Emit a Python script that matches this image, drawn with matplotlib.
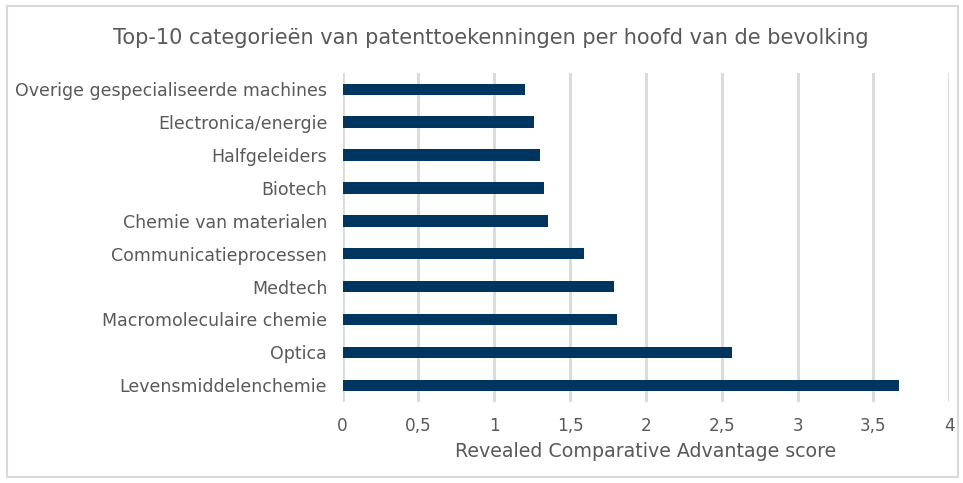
import matplotlib.pyplot as plt
from matplotlib.patches import Rectangle

categories = ['Levensmiddelenchemie', 'Optica', 'Macromoleculaire chemie', 'Medtech',
              'Communicatieprocessen', 'Chemie van materialen', 'Biotech',
              'Halfgeleiders', 'Electronica/energie', 'Overige gespecialiseerde machines']
scores = [3.67, 2.57, 1.81, 1.79, 1.59, 1.355, 1.33, 1.305, 1.265, 1.20]
xticks = [0, 0.5, 1, 1.5, 2, 2.5, 3, 3.5, 4]
xticklabels = ['0', '0,5', '1', '1,5', '2', '2,5', '3', '3,5', '4']

text_col = '#595959'
grid_col = '#d9d9d9'

fig = plt.figure(figsize=(9.63, 4.83), dpi=100)
ax = fig.add_axes([342.5 / 963, 1 - 401.7 / 483, (949.3 - 342.5) / 963, (401.7 - 72.9) / 483])

ax.barh(range(len(categories)), scores, height=0.35, color='#003560', zorder=3)
ax.set_ylim(-0.5, len(categories) - 0.5)
ax.set_xlim(0, 4)
ax.set_yticks(range(len(categories)))
ax.set_yticklabels(categories)
ax.set_xticks(xticks)
ax.set_xticklabels(xticklabels)
ax.tick_params(length=0, labelsize=12.2, colors=text_col)
ax.tick_params(axis='y', labelsize=12.5, pad=11)
ax.tick_params(axis='x', pad=11)
ax.grid(axis='x', color=grid_col, linewidth=2, zorder=0)
for s in ax.spines.values():
    s.set_visible(False)

ax.set_xlabel('Revealed Comparative Advantage score', fontsize=13.7, color=text_col, labelpad=5)
fig.text(491 / 963, 1 - 38 / 483, 'Top-10 categorieën van patenttoekenningen per hoofd van de bevolking',
         ha='center', va='center', fontsize=15, color=text_col)

fig.patches.append(Rectangle((7 / 963, 6 / 483), 951 / 963, 471 / 483, transform=fig.transFigure,
                             fill=False, edgecolor=grid_col, linewidth=1.5))

fig.savefig('out.png', dpi=100)
